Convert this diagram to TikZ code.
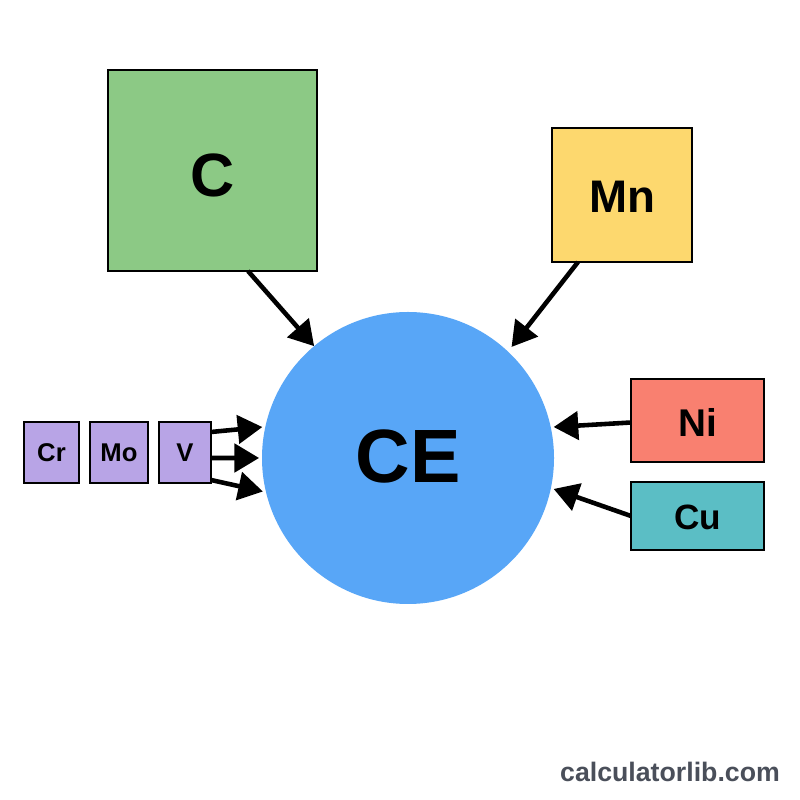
\documentclass[tikz,border=0pt]{standalone}
\usepackage{fontspec}
\setmainfont{Liberation Sans}
\usetikzlibrary{arrows.meta,calc}
\definecolor{cgreen}{HTML}{8CC985}
\definecolor{cyellow}{HTML}{FDD86E}
\definecolor{cred}{HTML}{F98070}
\definecolor{cteal}{HTML}{5BBEC5}
\definecolor{cpurple}{HTML}{B8A4E6}
\definecolor{cblue}{HTML}{58A6F7}
\definecolor{cgray}{HTML}{4A4F5A}
\tikzset{
  elem/.style={draw=black, line width=0.7pt, inner sep=0pt, outer sep=0pt},
  lbl/.style={inner sep=0pt, font=\bfseries\fontsize{#1}{#1}\selectfont},
  arr/.style={-{Triangle[length=7pt,width=8pt]}, line width=1.3pt, black}
}
\begin{document}
\begin{tikzpicture}
\useasboundingbox (0,0) rectangle (8,8);
\fill[white] (0,0) rectangle (8,8);
\node[circle, fill=cblue, minimum size=2.92cm, inner sep=0pt, outer sep=0pt] (CE) at (4.08,3.42) {};
\node[lbl=21.5] (tCE) at ([yshift=0.02cm]CE.center) {CE};
\node[elem, fill=cgreen, minimum width=2.09cm, minimum height=2.01cm] (C) at (2.125,6.295) {};
\node[lbl=17.4] (tC) at ([yshift=-0.045cm]C.center) {C};
\node[elem, fill=cyellow, minimum width=1.40cm, minimum height=1.34cm] (Mn) at (6.22,6.05) {};
\node[lbl=13] (tMn) at ([yshift=-0.015cm]Mn.center) {Mn};
\node[elem, fill=cred, minimum width=1.33cm, minimum height=0.83cm] (Ni) at (6.975,3.795) {};
\node[lbl=11] (tNi) at ([yshift=-0.02cm]Ni.center) {Ni};
\node[elem, fill=cteal, minimum width=1.33cm, minimum height=0.68cm] (Cu) at (6.975,2.84) {};
\node[lbl=10] (tCu) at ([yshift=-0.01cm]Cu.center) {Cu};
\node[elem, fill=cpurple, minimum width=0.55cm, minimum height=0.61cm] (Cr) at (0.515,3.475) {};
\node[lbl=7.3] (tCr) at (Cr.center) {Cr};
\node[elem, fill=cpurple, minimum width=0.58cm, minimum height=0.61cm] (Mo) at (1.19,3.475) {};
\node[lbl=7.3] (tMo) at (Mo.center) {Mo};
\node[elem, fill=cpurple, minimum width=0.52cm, minimum height=0.61cm] (V) at (1.85,3.475) {};
\node[lbl=7.3] (tV) at (V.center) {V};
\draw[arr] ([xshift=0.355cm]C.south) -- (CE.130);
\draw[arr] ([xshift=-0.44cm]Mn.south) -- ($(CE.center)!1.04!(CE.47)$);
\draw[arr] ([yshift=-0.02cm]Ni.west) -- ($(CE.center)!1.02!(CE.12)$);
\draw[arr] (Cu.west) -- ($(CE.center)!1.02!(CE.-12)$);
\draw[arr] ([yshift=0.205cm]V.east) -- ($(CE.center)!1.02!(CE.168)$);
\draw[arr] ([yshift=-0.055cm]V.east) -- ($(CE.center)!1.02!(CE.180)$);
\draw[arr] ([yshift=-0.275cm]V.east) -- ($(CE.center)!1.02!(CE.193)$);
\node[text=cgray, font=\bfseries\fontsize{7.6}{9}\selectfont] (site) at (6.7,0.28) {calculatorlib.com};
\end{tikzpicture}
\end{document}
